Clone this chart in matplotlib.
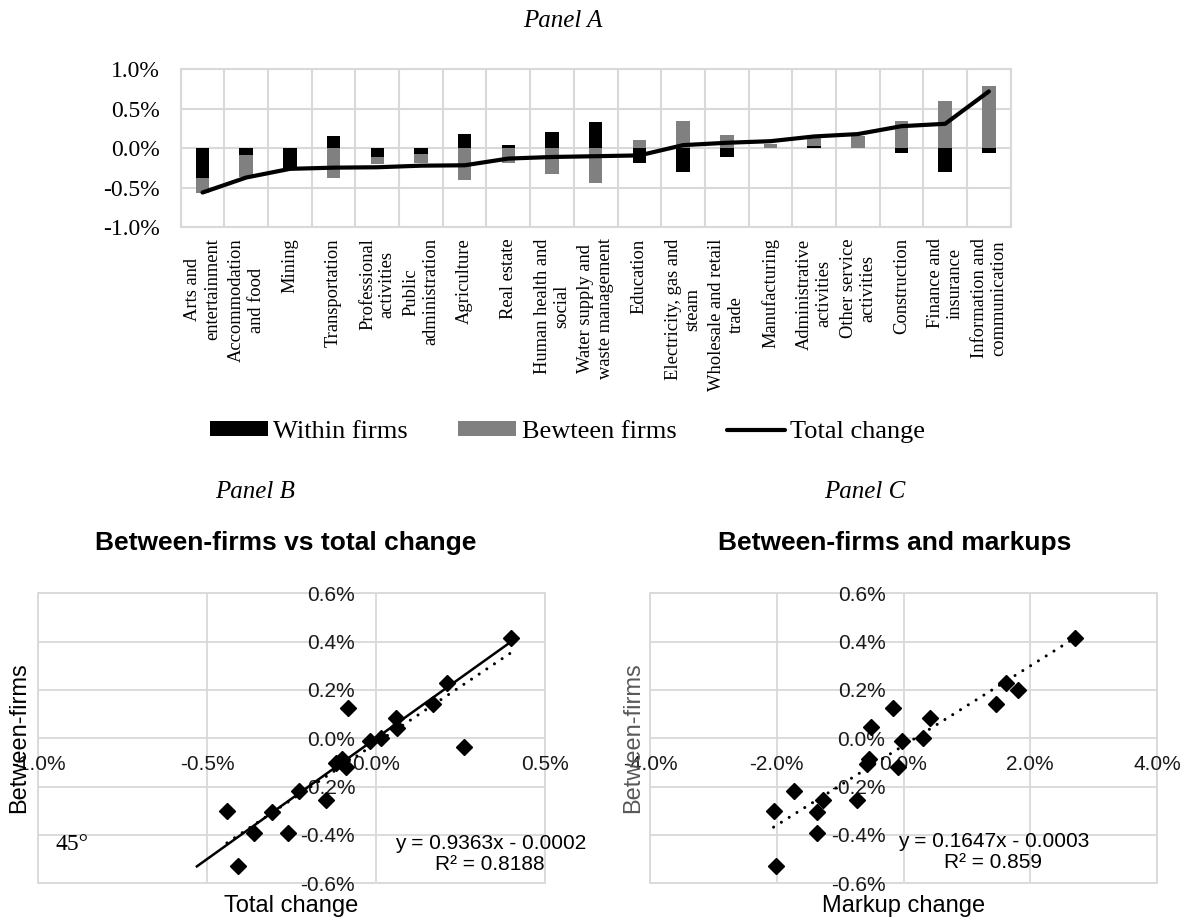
import numpy as np
import matplotlib
matplotlib.use("Agg")
import matplotlib.pyplot as plt
from matplotlib.patches import Rectangle

W, H = 1192, 922
SERIF = "Liberation Serif"
SANS = "Liberation Sans"
GRID = "#d9d9d9"

# Panel A: decomposition of the change by sector (in %)
sectors = ["Arts and\nentertainment", "Accommodation\nand food", "Mining", "Transportation",
           "Professional\nactivities", "Public\nadministration", "Agriculture", "Real estate",
           "Human health and\nsocial", "Water supply and\nwaste management", "Education",
           "Electricity, gas and\nsteam", "Wholesale and retail\ntrade", "Manufacturing",
           "Administrative\nactivities", "Other service\nactivities", "Construction",
           "Finance and\ninsurance", "Information and\ncommunication"]
within = [-0.37, -0.09, -0.27, 0.15, -0.11, -0.07, 0.18, 0.04, 0.21, 0.33,
          -0.19, -0.30, -0.11, 0.00, 0.03, 0.00, -0.06, -0.30, -0.06]
between = [-0.19, -0.27, 0.00, -0.38, -0.09, -0.12, -0.40, -0.19, -0.33, -0.44,
           0.10, 0.34, 0.17, 0.05, 0.10, 0.15, 0.34, 0.60, 0.79]
total = [-0.56, -0.37, -0.26, -0.245, -0.24, -0.22, -0.215, -0.13, -0.11, -0.10,
         -0.09, 0.04, 0.07, 0.09, 0.15, 0.18, 0.28, 0.31, 0.72]

# Panel B: between-firms component against total change (in %)
total_chg = [0.398, 0.21, 0.17, 0.259, 0.059, 0.0625, 0.014, -0.017, -0.083, -0.10,
             -0.117, -0.0875, -0.227, -0.148, -0.307, -0.441, -0.361, -0.261, -0.407]
between_b = [0.417, 0.228, 0.142, -0.034, 0.086, 0.041, 0.0, -0.01, 0.124, -0.087,
             -0.103, -0.117, -0.22, -0.255, -0.303, -0.299, -0.393, -0.393, -0.527]
fit_b = (0.9363, -0.0002)
r2_b = 0.8188
diag = [-0.53, 0.40]

# Panel C: between-firms component against markup change (in %)
markup_chg = [2.70, 1.62, 1.81, 1.46, 0.42, 0.31, -0.02, -0.16, -0.51, -0.55,
              -0.58, -0.09, -1.72, -1.27, -0.73, -1.37, -2.05, -1.37, -2.01]
between_c = [0.417, 0.228, 0.2, 0.142, 0.086, 0.003, -0.01, 0.124, 0.048, -0.087,
             -0.106, -0.117, -0.22, -0.255, -0.255, -0.303, -0.299, -0.393, -0.527]
fit_c = (0.1647, -0.0003)
r2_c = 0.859


def px_axes(fig, l, t, r, b):
    return fig.add_axes([l / W, 1 - b / H, (r - l) / W, (b - t) / H])


def pct(v):
    return f"{v:.1f}%"


fig = plt.figure(figsize=(W / 100, H / 100), dpi=100)

# ---------- Panel A ----------
fig.text(563 / W, 1 - 21 / H, "Panel A", family=SERIF, style="italic", fontsize=18,
         ha="center", va="center")

ax = px_axes(fig, 180.7, 69.3, 1010.7, 227.3)
x = np.arange(len(sectors))
within = np.array(within)
between = np.array(between)
# excel-style stacking: same-sign values stack, opposite signs start at zero
btw_bottom = np.where(np.sign(between) == np.sign(within), within, 0)
bw = 0.31
b1 = ax.bar(x, within, bw, color="black", zorder=3, label="Within firms")
b2 = ax.bar(x, between, bw, bottom=btw_bottom, color="#808080", zorder=3, label="Bewteen firms")
l1, = ax.plot(x, total, color="black", lw=3, solid_capstyle="round", zorder=4, label="Total change")

ax.set_xlim(-0.5, len(sectors) - 0.5)
ax.set_ylim(-1.0, 1.0)
yt = [-1.0, -0.5, 0.0, 0.5, 1.0]
ax.set_yticks(yt)
ax.set_yticklabels([pct(v) for v in yt], family=SERIF, fontsize=17)
ax.set_xticks(x)
ax.set_xticklabels(sectors, rotation=90, family=SERIF, fontsize=13.3, ha="center", va="top",
                   multialignment="center")
ax.set_xticks(np.arange(len(sectors) + 1) - 0.5, minor=True)
ax.tick_params(axis="both", which="both", length=0)
ax.tick_params(axis="y", pad=15)
ax.tick_params(axis="x", pad=8)
ax.grid(True, axis="y", which="major", color=GRID, lw=1.5, zorder=0)
ax.grid(True, axis="x", which="minor", color=GRID, lw=1.5, zorder=0)
for s in ax.spines.values():
    s.set_color(GRID)
    s.set_linewidth(1.5)

fig.legend(handles=[b1, b2, l1], loc="center", bbox_to_anchor=(567.5 / W, 1 - 432 / H),
           ncol=3, frameon=False, prop={"family": SERIF, "size": 19},
           handlelength=2.2, handleheight=0.5, handletextpad=0.2, columnspacing=1.9)


# ---------- Panels B and C ----------
def scatter_panel(l, r, xs, ys, xticks, fit, r2, eq_pos, ypad):
    ax = px_axes(fig, l, 593.3, r, 883.3)
    # axes cross at zero; spines are moved before the tick labels are styled
    for side in ["top", "right"]:
        ax.spines[side].set_visible(False)
    for side in ["left", "bottom"]:
        ax.spines[side].set_position(("data", 0))
        ax.spines[side].set_color("none")
    ax.plot(xs, ys, linestyle="none", marker="D", ms=8.5, color="black", zorder=4)
    fx = np.array([min(xs), max(xs)])
    ax.plot(fx, fit[0] * fx + fit[1] * 100, color="black", lw=2.2,
            linestyle=(0, (0.01, 3)), dash_capstyle="round", zorder=3)
    ax.set_xlim(xticks[0], xticks[-1])
    ax.set_ylim(-0.6, 0.6)
    yticks = [-0.6, -0.4, -0.2, 0.0, 0.2, 0.4, 0.6]
    ax.set_xticks(xticks)
    ax.set_yticks(yticks)
    ax.set_xticklabels([pct(v) for v in xticks], family=SANS, fontsize=15, color="#1a1a1a")
    ax.set_yticklabels([pct(v) for v in yticks], family=SANS, fontsize=15, color="#1a1a1a")
    ax.tick_params(length=0)
    ax.tick_params(axis="x", pad=12)
    ax.tick_params(axis="y", pad=ypad)
    ax.grid(True, color=GRID, lw=1.3, zorder=0)
    ax.add_patch(Rectangle((0, 0), 1, 1, transform=ax.transAxes, fill=False,
                           edgecolor=GRID, lw=1.3, clip_on=False, zorder=0))
    sign = "-" if fit[1] < 0 else "+"
    eq = f"y = {fit[0]}x {sign} {abs(fit[1]):.4f}\nR² = {r2}"
    ax.text(eq_pos[0], eq_pos[1], eq, family=SANS, fontsize=15, ha="center", va="center",
            multialignment="center", linespacing=1.15, zorder=5)
    return ax


fig.text(255 / W, 1 - 492 / H, "Panel B", family=SERIF, style="italic", fontsize=18,
         ha="center", va="center")
fig.text(286 / W, 1 - 543 / H, "Between-firms vs total change", family=SANS,
         weight="bold", fontsize=19, ha="center", va="center")
axb = scatter_panel(38, 545, total_chg, between_b, [-1.0, -0.5, 0.0, 0.5], fit_b, r2_b,
                    (0.338, -0.479), 15)
axb.plot(diag, diag, color="black", lw=1.8, zorder=3)
axb.text(-0.90, -0.44, "45°", family=SERIF, fontsize=17, ha="center", va="center")
fig.text(19 / W, 1 - 738 / H, "Between-firms", family=SANS, fontsize=17, rotation=90,
         ha="center", va="center")
fig.text(291.5 / W, 1 - 906 / H, "Total change", family=SANS, fontsize=17,
         ha="center", va="center")

fig.text(865 / W, 1 - 492 / H, "Panel C", family=SERIF, style="italic", fontsize=18,
         ha="center", va="center")
fig.text(895 / W, 1 - 543 / H, "Between-firms and markups", family=SANS,
         weight="bold", fontsize=19, ha="center", va="center")
axc = scatter_panel(650, 1157, markup_chg, between_c, [-4.0, -2.0, 0.0, 2.0, 4.0], fit_c, r2_c,
                    (1.42, -0.47), 13)
fig.text(633 / W, 1 - 738 / H, "Between-firms", family=SANS, fontsize=17, rotation=90,
         ha="center", va="center", color="#595959")
fig.text(903.5 / W, 1 - 906 / H, "Markup change", family=SANS, fontsize=17,
         ha="center", va="center")

fig.savefig("out.png", dpi=100)
